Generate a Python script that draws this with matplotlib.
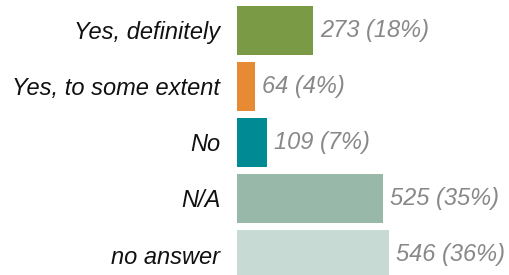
import matplotlib
matplotlib.use("Agg")
import matplotlib.pyplot as plt

categories = ["Yes, definitely", "Yes, to some extent", "No", "N/A", "no answer"]
counts = [273, 64, 109, 525, 546]
percents = [18, 4, 7, 35, 36]
colors = ["#7a9a45", "#e68a33", "#008a94", "#98b8aa", "#c8dad4"]

plt.rcParams['font.family'] = ['Liberation Sans', 'DejaVu Sans']

W, H = 509, 275
fig = plt.figure(figsize=(W / 100, H / 100), dpi=100)
left = 237 / W
ax = fig.add_axes([left, 0, 1 - left, 1])

pos = list(range(len(categories)))
ax.barh(pos, counts, height=0.875, color=colors)

# pixel scale: ~0.278 px per unit
ax.set_xlim(0, (W - 237) / 0.278)
ax.set_ylim((H - 30.5) / 56, -30.5 / 56)

ax.set_yticks(pos)
ax.set_yticklabels(categories, fontsize=17, style='italic', color='#111111')
ax.tick_params(axis='y', length=0, pad=12)
ax.set_xticks([])
for s in ax.spines.values():
    s.set_visible(False)

for p, c, pc in zip(pos, counts, percents):
    ax.annotate(f"{c} ({pc}%)", xy=(c, p), xytext=(5, 0), textcoords='offset points',
                ha='left', va='center', fontsize=17, style='italic', color='#888888')

fig.savefig("out.png", dpi=100)
